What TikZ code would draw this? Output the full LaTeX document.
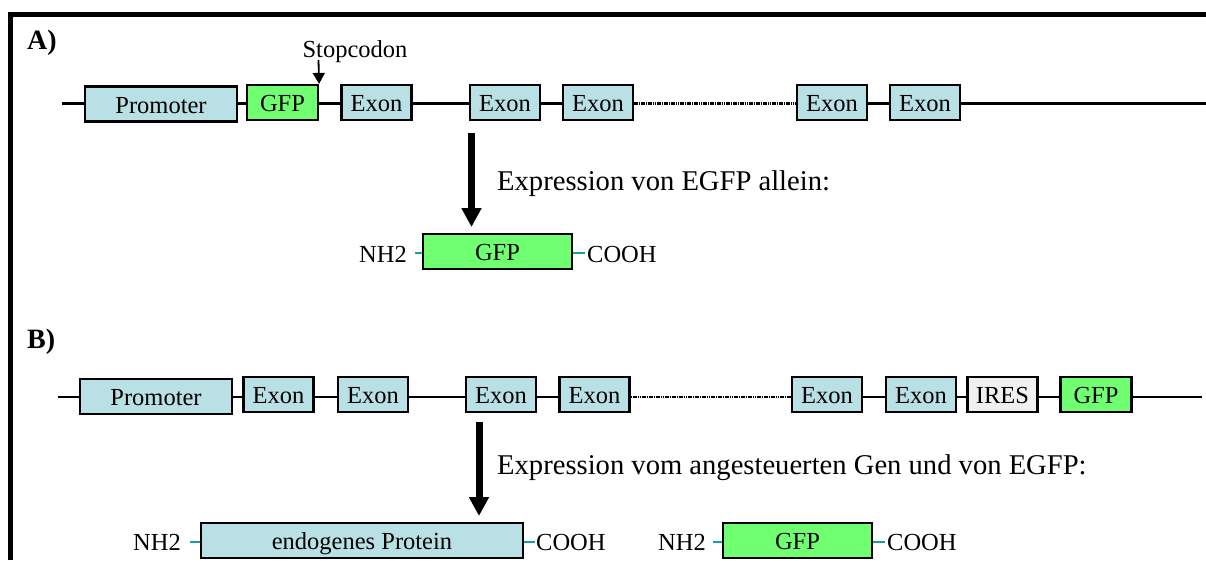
\documentclass[tikz,border=0pt]{standalone}
\usepackage{fontspec}
\setmainfont{Liberation Serif}
\usetikzlibrary{arrows.meta}
\definecolor{exonblue}{RGB}{185,224,228}
\definecolor{gfpgreen}{RGB}{112,255,112}
\definecolor{iresgray}{RGB}{240,240,240}
\definecolor{linkteal}{RGB}{20,160,160}
\begin{document}
\begin{tikzpicture}[x=1pt,y=-1pt,
  lbl/.style={font=\fontsize{24.5}{28}\selectfont,inner sep=0pt},
  caption/.style={font=\fontsize{28.6}{32}\selectfont,inner sep=0pt,anchor=base west},
  heading/.style={font=\fontsize{28}{32}\selectfont\bfseries,inner sep=0pt,anchor=base west},
  gbox/.style={draw,line width=2.2pt,inner sep=0pt,minimum height=35pt,text height=18pt,text depth=0pt,font=\fontsize{24.5}{28}\selectfont},
  exon/.style={gbox,fill=exonblue,minimum width=70pt},
  promoter/.style={gbox,fill=exonblue,minimum width=152pt},
  gfpbox/.style={gbox,fill=gfpgreen,minimum width=71pt},
  iresbox/.style={gbox,fill=iresgray,minimum width=70pt},
  dna/.style={line width=2.4pt},
  dnadots/.style={line width=2.2pt,dash pattern=on 1.6pt off 0.7pt},
  teallink/.style={line width=2.2pt,draw=linkteal},
  bigarrow/.style={line width=7pt,-{Triangle[width=19pt,length=19pt]}},
  stoparrow/.style={line width=1.8pt,-{Triangle[width=12pt,length=11pt]}},
]
\useasboundingbox (0,0) rectangle (1206,560);
% frame
\draw[line width=5pt] (10.5,560) -- (10.5,14.5) -- (1206,14.5);

% ---------------- A ----------------
\node[heading] (hA) at (27,49) {A)};
\coordinate (startA) at (62,103.5);
\coordinate (endA) at (1206,103.5);
\node[promoter] (prA) at (161,104) {Promoter};
\node[gfpbox] (gfpA) at (282.5,102.5) {GFP};
\node[exon] (exA1) at (376.5,102.5) {Exon};
\node[exon] (exA2) at (505,102.5) {Exon};
\node[exon] (exA3) at (598,102.5) {Exon};
\node[exon] (exA4) at (832,102.5) {Exon};
\node[exon] (exA5) at (925,102.5) {Exon};
\draw[dna] (startA) -- (startA -| prA.west);
\draw[dna] (prA.east |- startA) -- (gfpA.west |- startA);
\draw[dna] (gfpA.east |- startA) -- (exA1.west |- startA);
\draw[dna] (exA1.east |- startA) -- (exA2.west |- startA);
\draw[dna] (exA2.east |- startA) -- (exA3.west |- startA);
\draw[dnadots] (exA3.east |- startA) -- (exA4.west |- startA);
\draw[dna] (exA4.east |- startA) -- (exA5.west |- startA);
\draw[dna] (exA5.east |- startA) -- (endA);
% stop codon
\node[lbl,anchor=base] (stop) at (355,57) {Stopcodon};
\coordinate (stopTop) at (318.5,60);
\draw[stoparrow] (stopTop) -- (gfpA.north east);
% expression arrow
\coordinate (arA1) at (471.5,133);
\coordinate (arA2) at (471.5,227);
\draw[bigarrow] (arA1) -- (arA2);
\node[caption] (expA) at (497,190) {Expression von EGFP allein:};
% protein
\node[gbox,fill=gfpgreen,minimum width=149pt] (protA) at (497.5,251.5) {GFP};
\node[lbl,anchor=base east] (nhA) at (407,262) {NH2};
\node[lbl,anchor=base west] (coA) at (587,262) {COOH};
\coordinate (tA1) at (415,253);
\coordinate (tA2) at (585,253);
\draw[teallink] (tA1) -- (tA1 -| protA.west);
\draw[teallink] (protA.east |- tA2) -- (tA2);

% ---------------- B ----------------
\node[heading] (hB) at (27,348) {B)};
\coordinate (startB) at (58,397);
\coordinate (endB) at (1202,397);
\node[promoter] (prB) at (156,396.5) {Promoter};
\node[exon] (exB1) at (278.5,394.5) {Exon};
\node[exon] (exB2) at (373,394.5) {Exon};
\node[exon] (exB3) at (501,394.5) {Exon};
\node[exon] (exB4) at (594.5,394.5) {Exon};
\node[exon] (exB5) at (827,394.5) {Exon};
\node[exon] (exB6) at (921,394.5) {Exon};
\node[iresbox] (ires) at (1002.5,394.5) {IRES};
\node[gfpbox] (gfpB) at (1096,394.5) {GFP};
\draw[dna] (startB) -- (startB -| prB.west);
\draw[dna] (prB.east |- startB) -- (exB1.west |- startB);
\draw[dna] (exB1.east |- startB) -- (exB2.west |- startB);
\draw[dna] (exB2.east |- startB) -- (exB3.west |- startB);
\draw[dna] (exB3.east |- startB) -- (exB4.west |- startB);
\draw[dnadots] (exB4.east |- startB) -- (exB5.west |- startB);
\draw[dna] (exB5.east |- startB) -- (exB6.west |- startB);
\draw[dna] (exB6.east |- startB) -- (ires.west |- startB);
\draw[dna] (ires.east |- startB) -- (gfpB.west |- startB);
\draw[dna] (gfpB.east |- startB) -- (endB);
% expression arrow
\coordinate (arB1) at (479,422);
\coordinate (arB2) at (479,516);
\draw[bigarrow] (arB1) -- (arB2);
\node[caption] (expB) at (497,474) {Expression vom angesteuerten Gen und von EGFP:};
% endogenous protein
\node[gbox,fill=exonblue,minimum width=322pt] (endo) at (362,540.5) {endogenes Protein};
\node[lbl,anchor=base east] (nhB1) at (181,550) {NH2};
\node[lbl,anchor=base west] (coB1) at (536,550) {COOH};
\coordinate (tB1) at (190,542);
\coordinate (tB2) at (535,542);
\draw[teallink] (tB1) -- (tB1 -| endo.west);
\draw[teallink] (endo.east |- tB2) -- (tB2);
% GFP protein
\node[gbox,fill=gfpgreen,minimum width=149pt] (protB) at (797.5,540.5) {GFP};
\node[lbl,anchor=base east] (nhB2) at (706,550) {NH2};
\node[lbl,anchor=base west] (coB2) at (887,550) {COOH};
\coordinate (tB3) at (713,542);
\coordinate (tB4) at (885,542);
\draw[teallink] (tB3) -- (tB3 -| protB.west);
\draw[teallink] (protB.east |- tB4) -- (tB4);
\end{tikzpicture}
\end{document}
